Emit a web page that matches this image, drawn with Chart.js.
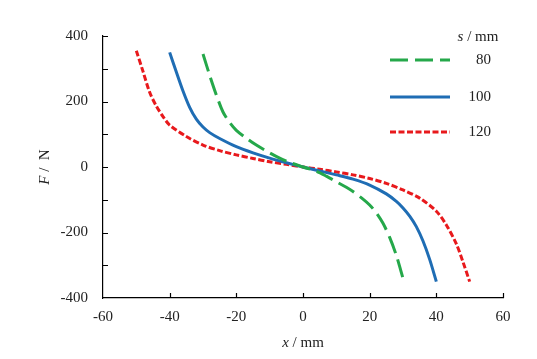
<!DOCTYPE html>
<html><head><meta charset="utf-8">
<script src="https://cdn.jsdelivr.net/npm/chart.js@4"></script>
<style>html,body{margin:0;padding:0;background:#fff}#wrap{width:537px;height:359px}</style>
</head><body><div id="wrap"><canvas id="c" width="537" height="359"></canvas></div>
<script>
const seriesNames = ['80', '100', '120'];
const x80 = [-30,-28,-26,-24,-22,-20,-17,-14,-10,-7,-4,0,4,7,10,13,15,18,20,22,24,26,28,30];
const y80 = [345,280,220,168,136,112,88,67,43,27,14,0,-13,-28,-45,-62,-75,-98,-116,-140,-172,-215,-270,-340];
const x100 = [-40,-38,-36,-34,-32,-30,-28,-25,-20,-15,-10,-5,0,5,10,15,20,25,28,30,32,34,36,38,40];
const y100 = [350,290,232,182,146,122,105,87,62,43,27,13,0,-12,-24,-37,-55,-82,-105,-125,-150,-182,-226,-282,-350];
const x120 = [-50,-48,-46,-44,-42,-40,-35,-30,-25,-20,-15,-10,-5,0,5,10,15,20,25,30,35,40,43,46,48,50];
const y120 = [355,292,228,186,154,128,93,67,50,37,26,16,8,0,-7,-15,-24,-35,-50,-70,-95,-135,-177,-235,-290,-350];
const xTicks = [-60,-40,-20,0,20,40,60];
const yTicks = [-400,-200,0,200,400];
const yMinorTicks = [-400,-300,-200,-100,0,100,200,300,400];

const toPts = (xs, ys) => xs.map((x, i) => ({x, y: ys[i]}));
const FONT = 'Liberation Serif';

const datasets = [
  {label: seriesNames[0], data: toPts(x80, y80), borderColor: '#25a84a', borderWidth: 3, borderDash: [18, 7]},
  {label: seriesNames[1], data: toPts(x100, y100), borderColor: '#1f6db4', borderWidth: 3, borderDash: []},
  {label: seriesNames[2], data: toPts(x120, y120), borderColor: '#e8191c', borderWidth: 3, borderDash: [6, 2.5]}
].map(d => Object.assign(d, {pointRadius: 0, fill: false, tension: 0.3, borderCapStyle: 'butt', borderJoinStyle: 'round'}));

const decor = {
  id: 'decor',
  afterDraw(chart) {
    const ctx = chart.ctx, xs = chart.scales.x, ys = chart.scales.y;
    ctx.save();
    ctx.strokeStyle = '#000'; ctx.lineWidth = 1.2; ctx.setLineDash([]);
    const left = xs.left, bottom = ys.bottom;
    ctx.beginPath();
    yMinorTicks.forEach(v => { if (v === -400) return; const p = Math.round(ys.getPixelForValue(v)) + 0.5; ctx.moveTo(left, p); ctx.lineTo(left + 5, p); });
    xTicks.forEach(v => { if (v === -60) return; const p = Math.round(xs.getPixelForValue(v)) + 0.5; ctx.moveTo(p, bottom); ctx.lineTo(p, bottom - 5); });
    ctx.stroke();
    ctx.fillStyle = '#222';
    const drawMixed = (parts, cx, cy) => {
      let w = 0;
      parts.forEach(p => { ctx.font = (p[1] ? 'italic ' : '') + '15px ' + FONT; w += ctx.measureText(p[0]).width; });
      let x = cx - w / 2;
      ctx.textBaseline = 'middle'; ctx.textAlign = 'left';
      parts.forEach(p => { ctx.font = (p[1] ? 'italic ' : '') + '15px ' + FONT; ctx.fillText(p[0], x, cy); x += ctx.measureText(p[0]).width; });
    };
    drawMixed([['x', true], [' / mm', false]], (xs.left + xs.right) / 2, 343);
    ctx.save();
    ctx.translate(45, (ys.top + ys.bottom) / 2);
    ctx.rotate(-Math.PI / 2);
    drawMixed([['F', true], [' /  N', false]], 0, 0);
    ctx.restore();
    drawMixed([['s', true], [' / mm', false]], 478, 37);
    const rows = [60, 97, 132];
    chart.data.datasets.forEach((d, i) => {
      ctx.strokeStyle = d.borderColor; ctx.lineWidth = 3; ctx.setLineDash(d.borderDash); ctx.lineCap = 'butt';
      ctx.beginPath(); ctx.moveTo(390, rows[i]); ctx.lineTo(450, rows[i]); ctx.stroke();
      ctx.setLineDash([]);
      ctx.fillStyle = '#222'; ctx.font = '15px ' + FONT; ctx.textAlign = 'right'; ctx.textBaseline = 'middle';
      ctx.fillText(d.label, 491, rows[i]);
    });
    ctx.restore();
  }
};

new Chart(document.getElementById('c'), {
  type: 'line',
  data: {datasets},
  options: {
    responsive: false, animation: false,
    layout: {padding: {left: 0, right: 34, top: 36, bottom: 0}},
    plugins: {legend: {display: false}, tooltip: {enabled: false}},
    scales: {
      x: {
        type: 'linear', min: -60, max: 60,
        afterBuildTicks: s => { s.ticks = xTicks.map(v => ({value: v})); },
        afterFit: s => { s.height = 61; },
        grid: {display: false, drawTicks: false},
        border: {display: true, color: '#000', width: 1.2},
        ticks: {color: '#222', font: {family: FONT, size: 15}, padding: 10, maxRotation: 0}
      },
      y: {
        type: 'linear', min: -400, max: 400,
        afterBuildTicks: s => { s.ticks = yTicks.map(v => ({value: v})); },
        afterFit: s => { s.width = 103; },
        grid: {display: false, drawTicks: false},
        border: {display: true, color: '#000', width: 1.2},
        ticks: {color: '#222', font: {family: FONT, size: 15}, padding: 15}
      }
    }
  },
  plugins: [decor]
});
</script></body></html>
